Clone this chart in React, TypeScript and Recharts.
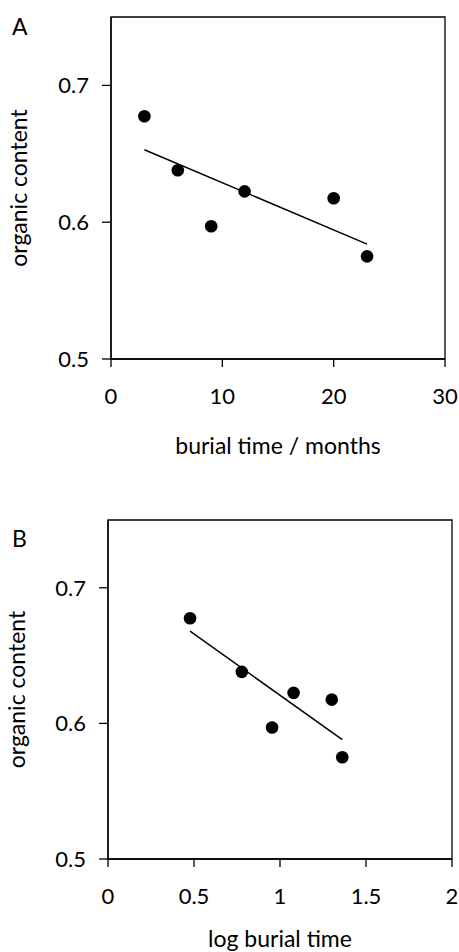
import React from 'react'
import { ScatterChart, Scatter, XAxis, YAxis, ReferenceArea } from 'recharts'

// burial time (months) and measured organic content
const burialMonths = [3, 6, 9, 12, 20, 23]
const logBurial = [0.477, 0.778, 0.954, 1.079, 1.301, 1.362]
const organic = [0.6775, 0.638, 0.597, 0.6225, 0.6175, 0.575]

// fitted trend lines (end points)
const trendMonthsX = [3, 23]
const trendMonthsY = [0.653, 0.584]
const trendLogX = [0.477, 1.362]
const trendLogY = [0.668, 0.588]

const ticksMonths = [0, 10, 20, 30]
const ticksLog = [0, 0.5, 1, 1.5, 2]
const ticksY = [0.5, 0.6, 0.7]

const FONT = 'Lato, "Open Sans", sans-serif'
const TICK_FS = 22
const TITLE_FS = 23

const zip = (xs: number[], ys: number[]) => xs.map((x, i) => ({ x, y: ys[i] }))

const Dot = (props: any) => <circle cx={props.cx} cy={props.cy} r={6.3} fill="#000" />

interface PanelProps {
  letter: string
  xs: number[]
  trendX: number[]
  trendY: number[]
  xTicks: number[]
  xMax: number
  xTitle: string
  top: number
  left: number
  right: number
  plotTop: number
  plotBottom: number
  letterTop: number
  yTitleX: number
  xTitleY: number
}

function Panel(p: PanelProps) {
  const W = 459
  const H = 482
  const xAxisH = 40
  const points = zip(p.xs, organic)
  const trend = zip(p.trendX, p.trendY)
  const midY = (p.plotTop + p.plotBottom) / 2
  const midX = (p.left + p.right) / 2
  return (
    <div style={{ position: 'absolute', left: 0, top: p.top, width: W, height: H }}>
      <div style={{ position: 'absolute', left: 12, top: p.letterTop, fontFamily: FONT, fontSize: 23, lineHeight: 1, color: '#000' }}>
        {p.letter}
      </div>
      <ScatterChart
        width={W}
        height={H}
        margin={{ top: p.plotTop, right: W - p.right, left: 0, bottom: H - p.plotBottom - xAxisH }}
      >
        <XAxis
          type="number"
          dataKey="x"
          domain={[0, p.xMax]}
          ticks={p.xTicks}
          height={xAxisH}
          tickSize={8}
          tickMargin={21}
          stroke="#000"
          strokeWidth={1.3}
          tick={{ fill: '#000', fontSize: TICK_FS, fontFamily: FONT }}
          allowDecimals
          label={{
            content: () => (
              <text x={midX} y={p.xTitleY} textAnchor="middle" dominantBaseline="central" fill="#000" fontSize={TITLE_FS} fontFamily={FONT}>
                {p.xTitle}
              </text>
            ),
          }}
        />
        <YAxis
          type="number"
          dataKey="y"
          domain={[0.5, 0.75]}
          ticks={ticksY}
          width={p.left}
          tickSize={9}
          tickMargin={13}
          stroke="#000"
          strokeWidth={1.3}
          tick={{ fill: '#000', fontSize: TICK_FS, fontFamily: FONT }}
          label={{
            content: () => (
              <text
                x={p.yTitleX}
                y={midY}
                transform={`rotate(-90 ${p.yTitleX} ${midY})`}
                textAnchor="middle"
                dominantBaseline="central"
                fill="#000"
                fontSize={TITLE_FS}
                fontFamily={FONT}
              >
                organic content
              </text>
            ),
          }}
        />
        <ReferenceArea x1={0} x2={p.xMax} y1={0.5} y2={0.75} fill="none" stroke="#000" strokeWidth={1.3} />
        <Scatter
          data={trend}
          line={{ stroke: '#000', strokeWidth: 1.5 }}
          shape={() => <g />}
          isAnimationActive={false}
        />
        <Scatter data={points} shape={Dot} isAnimationActive={false} />
      </ScatterChart>
    </div>
  )
}

export default function App() {
  return (
    <div style={{ position: 'absolute', left: 0, top: 0, width: 459, height: 952, background: '#fff' }}>
      <Panel
        letter="A"
        xs={burialMonths}
        trendX={trendMonthsX}
        trendY={trendMonthsY}
        xTicks={ticksMonths}
        xMax={30}
        xTitle="burial time / months"
        top={0}
        left={111}
        right={445}
        plotTop={17}
        plotBottom={359}
        letterTop={15}
        yTitleX={18}
        xTitleY={445}
      />
      <Panel
        letter="B"
        xs={logBurial}
        trendX={trendLogX}
        trendY={trendLogY}
        xTicks={ticksLog}
        xMax={2}
        xTitle="log burial time"
        top={470}
        left={108}
        right={452}
        plotTop={50}
        plotBottom={389}
        letterTop={57}
        yTitleX={16}
        xTitleY={468}
      />
    </div>
  )
}
